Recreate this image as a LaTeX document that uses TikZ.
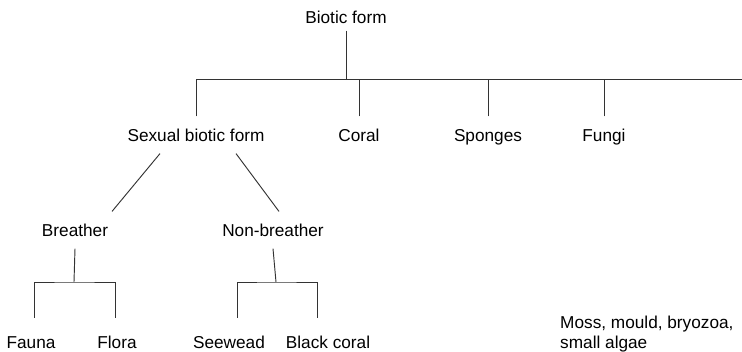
\documentclass[tikz,border=0pt]{standalone}
\usepackage{fontspec}
\setmainfont{Liberation Sans}
\usepackage{tikz}
\usetikzlibrary{positioning}

\begin{document}
\begin{tikzpicture}[
        x=0.03cm, y=-0.03cm,
        label/.style={inner sep=0pt, minimum height=1.1cm,
            text height=14pt, text depth=3pt,
            font=\fontsize{14.7pt}{17pt}\selectfont},
        leaf/.style={label, minimum height=1.44cm},
        link/.style={draw, line width=0.8pt, black!80},
    ]
        \useasboundingbox (0,0) rectangle (742,351);

        \node[label, minimum height=0.8cm] (bio) at (346,17) {Biotic form};
        \node[label] (sex) at (196,135) {Sexual biotic form};
        \node[label] (coral) at (359,135) {Coral};
        \node[label] (sponges) at (488,135) {Sponges};
        \node[label] (fungi) at (604,135) {Fungi};

        \node[label] (brea) at (75,230) {Breather};
        \node[label] (nonbr) at (273,230) {Non-breather};

        \node[leaf] (fauna) at (31,342) {Fauna};
        \node[leaf] (flora) at (117,342) {Flora};
        \node[leaf] (seew) at (229,342) {Seewead};
        \node[leaf] (black) at (328,342) {Black coral};
        \node[anchor=west, align=left, inner sep=0pt,
            font=\fontsize{14.7pt}{17pt}\selectfont] (moss) at (560,334)
            {Moss, mould, bryozoa,\\small algae};

        \coordinate (bar) at (346,79);
        \coordinate (barend) at (742,79);
        \coordinate (fk1) at (74,282);
        \coordinate (fk2) at (276,282);

        \path[link] (bio.south) -- (bar);
        \path[link] (sex.north |- bar) -- (barend);
        \foreach \n in {sex, coral, sponges, fungi}
            \path[link] (\n.north) -- (\n.north |- bar);

        \path[link] ([xshift=-1.08cm]sex.south) -- ([xshift=1.11cm]brea.north);
        \path[link] ([xshift=1.2cm]sex.south) -- ([xshift=0.18cm]nonbr.north);

        \path[link] (brea.south) -- (fk1);
        \path[link] ([xshift=0.09cm]fauna.north) |- (fk1) -| ([xshift=-0.06cm]flora.north);
        \path[link] (nonbr.south) -- (fk2);
        \path[link] ([xshift=0.24cm]seew.north) |- (fk2) -| ([xshift=-0.33cm]black.north);
    \end{tikzpicture}
\end{document}
